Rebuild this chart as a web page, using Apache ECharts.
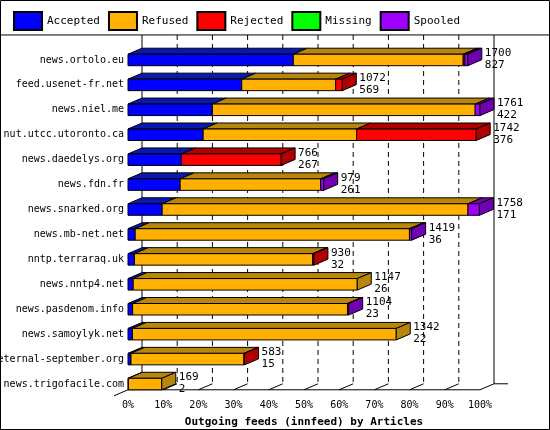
<!DOCTYPE html>
<html>
<head>
<meta charset="UTF-8">
<script src="https://cdn.jsdelivr.net/npm/echarts@6/dist/echarts.min.js"></script>
<style>body{margin:0;background:#fff}#main{width:550px;height:430px}</style>
</head>
<body>
<div id="main"></div>
<script>
// hosts, top to bottom
var hosts = ['news.ortolo.eu','feed.usenet-fr.net','news.niel.me','nut.utcc.utoronto.ca','news.daedelys.org',
  'news.fdn.fr','news.snarked.org','news.mb-net.net','nntp.terraraq.uk','news.nntp4.net',
  'news.pasdenom.info','news.samoylyk.net','eternal-september.org','news.trigofacile.com'];
var totals   = [1700,1072,1761,1742,766,979,1758,1419,930,1147,1104,1342,583,169];
var accepted = [827,569,422,376,267,261,171,36,32,26,23,22,15,2];
var refused  = [850,470,1315,768,0,703,1530,1372,892,1121,1075,1320,565,167];
var rejected = [8,33,0,598,499,0,0,0,6,0,0,0,3,0];
var missing  = [0,0,0,0,0,0,0,0,0,0,0,0,0,0];
var spooled  = [15,0,24,0,0,15,57,11,0,0,6,0,0,0];
var maxArticles = 1761;
var tickPercents = [0,10,20,30,40,50,60,70,80,90,100];

var statuses = [
  {name:'Accepted', vals:accepted, front:'#0000ff', top:'#0a18b0'},
  {name:'Refused',  vals:refused,  front:'#ffb000', top:'#b8860b'},
  {name:'Rejected', vals:rejected, front:'#ff0000', top:'#b00000'},
  {name:'Missing',  vals:missing,  front:'#00ff00', top:'#00b000'},
  {name:'Spooled',  vals:spooled,  front:'#a000ff', top:'#7000b0'}
];
var DX = 14, DY = 6, BH = 11.5;

var lastIdx = hosts.map(function(h, i){
  var l = 0; statuses.forEach(function(s, k){ if (s.vals[i] > 0) l = k; }); return l;
});

function boxRender(st, k) {
  return function(params, api) {
    var i = api.value(0), a = api.value(1), b = api.value(2);
    if (b <= a) return;
    var p0 = api.coord([a, i]), p1 = api.coord([b, i]);
    var y0 = p0[1] - BH/2, y1 = p0[1] + BH/2;
    var ls = {stroke:'#000', lineWidth:1};
    var ch = [
      {type:'polygon', shape:{points:[[p0[0],y0],[p1[0],y0],[p1[0]+DX,y0-DY],[p0[0]+DX,y0-DY]]},
        style:Object.assign({fill:st.top}, ls)},
      {type:'rect', shape:{x:p0[0], y:y0, width:p1[0]-p0[0], height:BH},
        style:Object.assign({fill:st.front}, ls)}
    ];
    if (lastIdx[i] === k) {
      ch.push({type:'polygon', shape:{points:[[p1[0],y0],[p1[0]+DX,y0-DY],[p1[0]+DX,y1-DY],[p1[0],y1]]},
        style:Object.assign({fill:st.top}, ls)});
    }
    return {type:'group', children:ch};
  };
}

var series = statuses.map(function(st, k){
  var data = hosts.map(function(h, i){
    var start = 0;
    for (var j = 0; j < k; j++) start += statuses[j].vals[i];
    return [i, start, start + st.vals[i]];
  });
  return {name:st.name, type:'custom', renderItem:boxRender(st, k), data:data,
    itemStyle:{color:st.front, borderColor:'#000', borderWidth:1}, z:3};
});

// back wall grid lines and floor
series.unshift({
  type:'custom', silent:true, z:1,
  data: tickPercents.map(function(p){ return [p]; }),
  renderItem:function(params, api){
    var v = api.value(0) / 100 * maxArticles;
    var top = api.coord([v, 0])[1] - 25;
    var bot = api.coord([v, hosts.length-1])[1] + BH/2;
    var x = api.coord([v, 0])[0];
    var solid = (api.value(0) === 0 || api.value(0) === 100);
    var ch = [{type:'line', shape:{x1:x+DX, y1:top, x2:x+DX, y2:bot-DY},
      style:{stroke:'#000', lineWidth:1, lineDash: solid ? null : [5,4]}}];
    ch.push({type:'line', shape:{x1:x, y1:bot, x2:x+DX, y2:bot-DY}, style:{stroke:'#000', lineWidth:1}});
    if (params.dataIndex === 0) {
      var xe = api.coord([maxArticles, 0])[0];
      ch.push({type:'line', shape:{x1:x, y1:bot, x2:xe, y2:bot}, style:{stroke:'#000', lineWidth:1}});
      ch.push({type:'line', shape:{x1:xe+DX, y1:bot-DY, x2:xe+DX+14, y2:bot-DY}, style:{stroke:'#000', lineWidth:1}});
      ch.push({type:'line', shape:{x1:x-DX, y1:bot+DY, x2:x, y2:bot}, style:{stroke:'#000', lineWidth:1}});
      ch.push({type:'line', shape:{x1:0, y1:top, x2:550, y2:top}, style:{stroke:'#000', lineWidth:1}});
    }
    return {type:'group', children:ch};
  }
});

// total / accepted labels
series.push({
  type:'custom', silent:true, z:4,
  data: hosts.map(function(h, i){ return [i, totals[i], accepted[i]]; }),
  renderItem:function(params, api){
    var p = api.coord([api.value(1), api.value(0)]);
    return {type:'text', style:{x:p[0]+DX+3, y:p[1]-BH/2-DY-1,
      text: api.value(1) + '\n' + api.value(2), fill:'#000',
      font:'11px "DejaVu Sans Mono"', lineHeight:12, textVerticalAlign:'top'}};
  }
});

var chart = echarts.init(document.getElementById('main'));
chart.setOption({
  animation:false,
  backgroundColor:'#fff',
  textStyle:{fontFamily:'DejaVu Sans Mono'},
  legend:{data:statuses.map(function(s){return s.name;}), left:8, top:6, itemWidth:28, itemHeight:18,
    itemGap:8, icon:'rect', textStyle:{fontSize:11, width:68, color:'#000', fontFamily:'DejaVu Sans Mono'}},
  grid:{left:128, width:352, top:47.5, height:349, outerBoundsMode:'none', containLabel:false},
  xAxis:{type:'value', min:0, max:maxArticles, interval:maxArticles/10,
    axisLine:{show:false}, axisTick:{show:false}, splitLine:{show:false},
    axisLabel:{color:'#000', fontSize:10, margin:4, formatter:function(v){ return Math.round(v/maxArticles*100)+'%'; }},
    name:'Outgoing feeds (innfeed) by Articles', nameLocation:'middle', nameGap:20,
    nameTextStyle:{fontWeight:'bold', fontSize:11, color:'#000', fontFamily:'DejaVu Sans Mono'}},
  yAxis:{type:'category', data:hosts, inverse:true,
    axisLine:{show:false}, axisTick:{show:false},
    axisLabel:{color:'#000', fontSize:10, margin:4, fontFamily:'DejaVu Sans Mono'}},
  graphic:[{type:'rect', shape:{x:0.5, y:0.5, width:549, height:429}, style:{fill:null, stroke:'#000', lineWidth:1}, silent:true}],
  series:series
});
</script>
</body>
</html>
